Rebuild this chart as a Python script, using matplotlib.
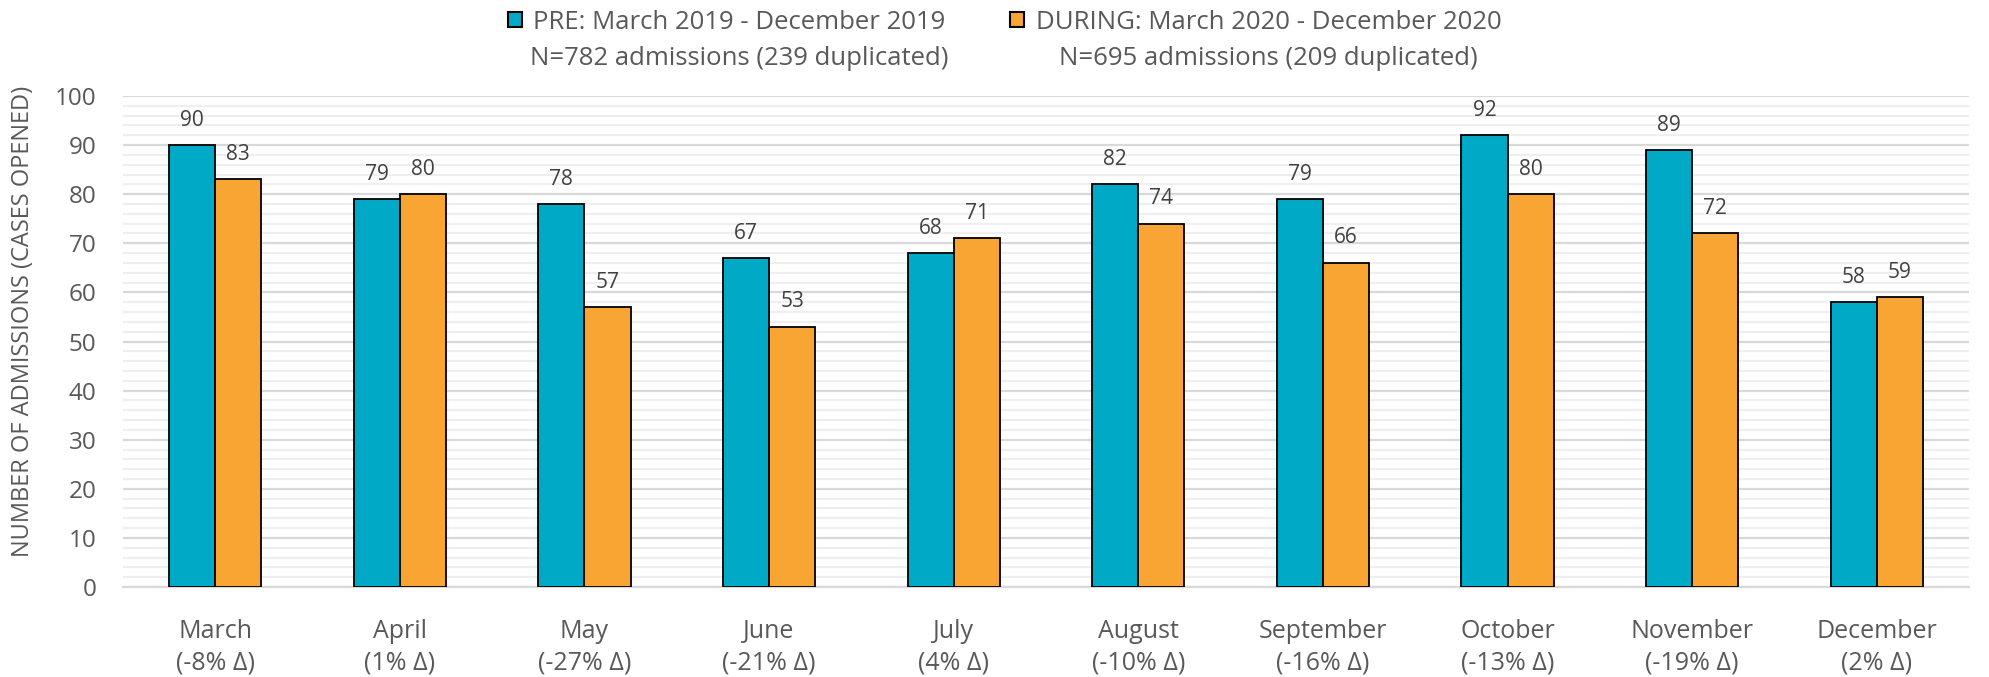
import matplotlib
matplotlib.use("Agg")
import matplotlib.pyplot as plt
from matplotlib.patches import Patch
from matplotlib.ticker import MultipleLocator
import numpy as np

months = ["March", "April", "May", "June", "July", "August", "September",
          "October", "November", "December"]
delta_pct = ["-8%", "1%", "-27%", "-21%", "4%", "-10%", "-16%", "-13%", "-19%", "2%"]
pre_values = [90, 79, 78, 67, 68, 82, 79, 92, 89, 58]
during_values = [83, 80, 57, 53, 71, 74, 66, 80, 72, 59]
legend_line1 = ["PRE: March 2019 - December 2019", "DURING: March 2020 - December 2020"]
legend_line2 = ["N=782 admissions (239 duplicated)", "N=695 admissions (209 duplicated)"]
y_label = "NUMBER OF ADMISSIONS (CASES OPENED)"

TEAL = "#00A9C6"
ORANGE = "#F8A533"
GRAY = "#595959"

plt.rcParams['font.family'] = ['Open Sans', 'DejaVu Sans']

fig = plt.figure(figsize=(19.89, 6.77), dpi=100)
ax = fig.add_axes([0.0618, 0.1329, 0.9282, 0.7253])

x = np.arange(len(months))
w = 0.25
b1 = ax.bar(x - w / 2, pre_values, w, color=TEAL, edgecolor="black", linewidth=1.3, zorder=3)
b2 = ax.bar(x + w / 2, during_values, w, color=ORANGE, edgecolor="black", linewidth=1.3, zorder=3)

for bars, vals in ((b1, pre_values), (b2, during_values)):
    for rect, v in zip(bars, vals):
        ax.annotate(str(v), (rect.get_x() + rect.get_width() / 2, v),
                    xytext=(0, 25), textcoords="offset pixels",
                    ha="center", va="center", fontsize=15, color="#404040")

ax.set_xlim(-0.5, len(months) - 0.5)
ax.set_ylim(0, 100)
ax.yaxis.set_major_locator(MultipleLocator(10))
ax.yaxis.set_minor_locator(MultipleLocator(2))
ax.grid(which="minor", axis="y", color="#efefef", linewidth=1.6, zorder=0)
ax.grid(which="major", axis="y", color="#d9d9d9", linewidth=1.6, zorder=1)
ax.set_axisbelow(True)
for s in ["top", "right", "left"]:
    ax.spines[s].set_visible(False)
ax.spines["bottom"].set_color("#d9d9d9")
ax.spines["bottom"].set_linewidth(1.6)

ax.set_xticks(x)
ax.set_xticklabels([f"{m}\n({d} Δ)" for m, d in zip(months, delta_pct)],
                   linespacing=1.35)
ax.tick_params(axis="x", length=0, pad=23, labelsize=18, labelcolor=GRAY)
ax.tick_params(axis="y", which="both", length=0, pad=19, labelsize=17.5, labelcolor=GRAY)
ax.set_ylabel(y_label, fontsize=17, color=GRAY)
ax.yaxis.set_label_coords(-0.0475, 0.54)

handles = [Patch(facecolor=TEAL, edgecolor="black", linewidth=1.5),
           Patch(facecolor=ORANGE, edgecolor="black", linewidth=1.5)]
leg = fig.legend(handles, legend_line1, loc="center", bbox_to_anchor=(0.505, 0.967),
                 ncol=2, frameon=False, fontsize=18.5, handlelength=0.55, handleheight=0.55,
                 handletextpad=0.45, columnspacing=2.5, labelcolor=GRAY)

fig.canvas.draw()
renderer = fig.canvas.get_renderer()
for t, line2 in zip(leg.get_texts(), legend_line2):
    bb = t.get_window_extent(renderer)
    cx = (bb.x0 + bb.x1) / 2 / fig.bbox.width
    cy = (bb.y0 + bb.y1) / 2 / fig.bbox.height
    fig.text(cx, cy - 36 / fig.bbox.height, line2, ha="center", va="center",
             fontsize=18.5, color=GRAY)

fig.savefig("out.png", dpi=100)
